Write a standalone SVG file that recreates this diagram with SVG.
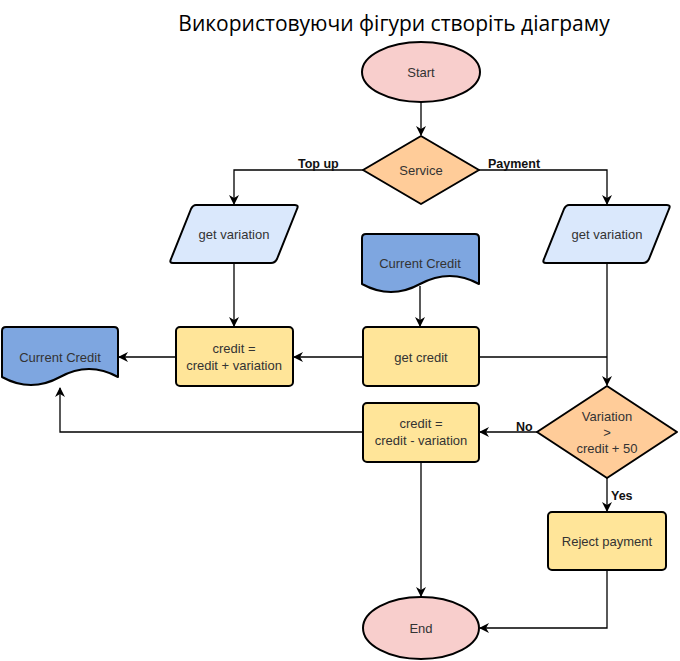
<svg xmlns="http://www.w3.org/2000/svg" width="680" height="661" viewBox="0 0 680 661">
<style>
.t{font-family:"Liberation Sans",Arial,sans-serif;font-size:13px;fill:#333;text-anchor:middle}
.l{font-family:"Liberation Sans",Arial,sans-serif;font-size:12.5px;font-weight:bold;fill:#111}
.s{stroke:#000;stroke-width:2;stroke-linejoin:round}
.term{fill:#f8cecc}
.dec{fill:#ffcc99}
.io{fill:#dae8fc}
.proc{fill:#ffe599}
.doc{fill:#7ea6e0}
.c{fill:none;stroke:#000;stroke-width:1.3}
</style>
<defs>
<marker id="a" viewBox="0 0 10 10" refX="9" refY="5" markerWidth="10" markerHeight="10" markerUnits="userSpaceOnUse" orient="auto">
<path d="M0,0 L10,5 L0,10 L3,5 z" fill="#000"/>
</marker>
</defs>
<rect width="680" height="661" fill="#fff"/>
<text x="394" y="31" font-family="'Open Sans','Noto Sans',sans-serif" font-size="21" fill="#000" text-anchor="middle">Використовуючи фігури створіть діаграму</text>

<g id="connectors">
<path class="c" d="M421,102 V135" marker-end="url(#a)"/>
<path class="c" d="M363,170 H234 V204" marker-end="url(#a)"/>
<path class="c" d="M479,170 H607 V204" marker-end="url(#a)"/>
<path class="c" d="M234,263 V326" marker-end="url(#a)"/>
<path class="c" d="M420,286 V326" marker-end="url(#a)"/>
<path class="c" d="M176,357 H119" marker-end="url(#a)"/>
<path class="c" d="M363,357 H294" marker-end="url(#a)"/>
<path class="c" d="M607,263 V385" marker-end="url(#a)"/>
<path class="c" d="M479,357 H607"/>
<path class="c" d="M537,432 H480" marker-end="url(#a)"/>
<path class="c" d="M363,432 H60 V388" marker-end="url(#a)"/>
<path class="c" d="M421,462 V596" marker-end="url(#a)"/>
<path class="c" d="M607,478 V511" marker-end="url(#a)"/>
<path class="c" d="M607,570 V628 H480" marker-end="url(#a)"/>
<text class="l" x="298" y="168">Top up</text>
<text class="l" x="488" y="168">Payment</text>
<text class="l" x="516" y="431">No</text>
<text class="l" x="611" y="500">Yes</text>
</g>

<g id="start">
<ellipse class="s term" cx="421" cy="72" rx="59" ry="30"/>
<text class="t" x="421" y="77">Start</text>
</g>

<g id="service">
<polygon class="s dec" points="421,136 479,170 421,204 363,170"/>
<text class="t" x="421" y="175">Service</text>
</g>

<g id="get-variation-left">
<path class="s io" d="M196,205 H295 Q299,205 297,209 L277,259 Q275,263 271,263 H173 Q169,263 171,259 L191,209 Q193,205 196,205 Z"/>
<text class="t" x="234" y="239">get variation</text>
</g>

<g id="get-variation-right">
<path class="s io" d="M569,205 H667 Q671,205 669,209 L649,259 Q647,263 643,263 H546 Q542,263 544,259 L564,209 Q566,205 569,205 Z"/>
<text class="t" x="607" y="239">get variation</text>
</g>

<g id="current-credit-middle">
<path class="s doc" d="M366,234 H475 Q479,234 479,238 V284 Q450,268 420,284 Q391,300 362,284 V238 Q362,234 366,234 Z"/>
<text class="t" x="420" y="268">Current Credit</text>
</g>

<g id="get-credit">
<rect class="s proc" x="363" y="327" width="116" height="59" rx="4"/>
<text class="t" x="421" y="362">get credit</text>
</g>

<g id="credit-plus">
<rect class="s proc" x="176" y="327" width="117" height="59" rx="4"/>
<text class="t" x="234" y="353">credit =</text>
<text class="t" x="234" y="370">credit + variation</text>
</g>

<g id="current-credit-left">
<path class="s doc" d="M6,327 H114 Q118,327 118,331 V377 Q89,361 60,377 Q31,393 2,377 V331 Q2,327 6,327 Z"/>
<text class="t" x="60" y="362">Current Credit</text>
</g>

<g id="variation-check">
<polygon class="s dec" points="607,386 677,432 607,478 537,432"/>
<text class="t" x="607" y="421">Variation</text>
<text class="t" x="607" y="437">&gt;</text>
<text class="t" x="607" y="453">credit + 50</text>
</g>

<g id="credit-minus">
<rect class="s proc" x="363" y="403" width="116" height="59" rx="4"/>
<text class="t" x="421" y="428">credit =</text>
<text class="t" x="421" y="445">credit - variation</text>
</g>

<g id="reject">
<rect class="s proc" x="548" y="512" width="118" height="58" rx="4"/>
<text class="t" x="607" y="546">Reject payment</text>
</g>

<g id="end">
<ellipse class="s term" cx="421" cy="628" rx="58" ry="31"/>
<text class="t" x="421" y="633">End</text>
</g>
</svg>
